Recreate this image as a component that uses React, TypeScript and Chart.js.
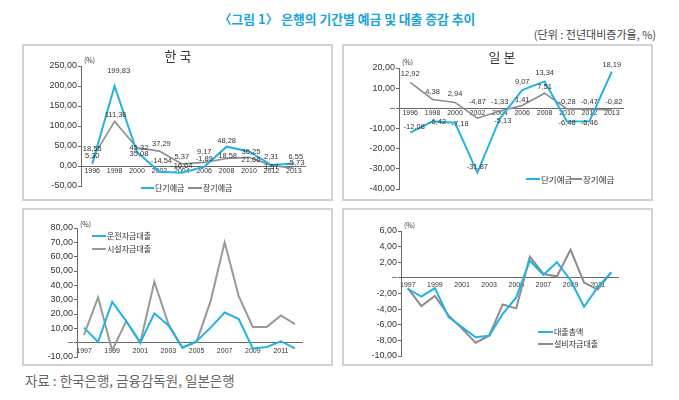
import React, { useEffect, useRef } from 'react';
import { Chart, registerables } from 'chart.js';
Chart.register(...registerables);

// ---------------- data ----------------
const depositYears = ['1996', '1998', '2000', '2002', '2004', '2006', '2008', '2010', '2012', '2013'];
const krShortDeposit = [5.3, 199.83, 35.08, -14.54, -16.64, -1.89, 48.28, 36.25, 2.31, 6.55];
const krLongDeposit = [18.55, 111.36, 45.32, 37.29, 5.37, 9.17, 18.58, 21.66, 1.57, -5.73];
const jpShortDeposit = [-12.08, -6.42, -7.18, -31.87, -5.13, 9.07, 13.34, -6.48, -6.46, 18.19];
const jpLongDeposit = [12.92, 4.38, 2.94, -4.87, -1.33, 1.41, 7.51, -0.28, -0.47, -0.82];

const loanYears = ['1997', '1998', '1999', '2000', '2001', '2002', '2003', '2004', '2005', '2006', '2007', '2008', '2009', '2010', '2011', '2012'];
const krWorkingLoan = [10.5, 0.5, 28.5, 15, 0, 20.5, 12, -3.5, 1, 10.5, 21, 16.5, -4, -3, 1, -4];
const krFacilityLoan = [5.5, 31.5, -5.5, 15, 0, 42.5, 13, -3.5, 0.5, 29, 70, 32.5, 11, 11, 19, 13];
const jpTotalLoan = [-1.4, -2.4, -1.3, -5.0, -6.3, -7.6, -7.4, -4.6, -2.5, 2.2, 0.4, 2.0, -0.3, -3.7, -1.2, 0.7];
const jpFacilityLoan = [-1.3, -3.6, -2.3, -4.8, -6.5, -8.3, -7.4, -3.4, -3.9, 2.7, 0.5, 0.2, 3.6, -0.6, -1.5, 0.7];

// label placement offsets [dx, dy] (style only)
const krShortOffsets = [[0, -8], [4, -15], [2, 2], [2, -11], [0, -7], [0, -8], [0, -6], [2, 0], [0, -8], [2, -6]];
const krLongOffsets = [[0, -10], [1, -7], [2, 0], [2, -7], [0, -7], [0, -10], [1, -3], [2, 3], [0, 2], [2, -5]];
const jpShortOffsets = [[4, -6], [5, 1], [5, 1], [0, -6], [3, 2], [0, -8], [0, -8], [0, 2], [0, 2], [0, -7]];
const jpLongOffsets = [[0, -8], [0, -8], [0, -8], [0, -16], [0, -9], [0, -6], [0, -6], [0, -7], [0, -7], [2, -8]];

// ---------------- styles ----------------
const CYAN = '#23b2e5';
const GRAY = '#8c8c8c';
const AXIS = '#6a6a6a';
const NARROW = "'Liberation Sans', Arial, sans-serif";
const KFONT = "'Noto Sans CJK KR', 'Noto Sans', sans-serif";

const fmt = (v: number) => v.toFixed(2).replace('.', ',');

const dataLabelPlugin = {
  id: 'dlabels',
  afterDatasetsDraw(chart: any, _args: any, opts: any) {
    if (!opts || !opts.offsets) return;
    const ctx = chart.ctx;
    ctx.save();
    ctx.font = `7.5px ${NARROW}`;
    ctx.fillStyle = '#333';
    ctx.textAlign = 'center';
    ctx.textBaseline = 'middle';
    chart.data.datasets.forEach((ds: any, di: number) => {
      const meta = chart.getDatasetMeta(di);
      const offs = opts.offsets[di];
      if (!offs) return;
      meta.data.forEach((pt: any, i: number) => {
        const [dx, dy] = offs[i];
        ctx.fillText(fmt(ds.data[i]), pt.x + dx, pt.y + dy);
      });
    });
    ctx.restore();
  },
};

type Series = { data: number[]; color: string; width: number };
type PanelProps = {
  box: number[]; // left, top, right, bottom
  area: number[]; // L, T, R, B
  labels: string[];
  series: Series[];
  yMin: number;
  yMax: number;
  yStep: number;
  dashZero: boolean;
  xEvery: number;
  xPad: number;
  xFont: number;
  offsets?: number[][][];
};

function Panel(p: PanelProps) {
  const ref = useRef<HTMLCanvasElement>(null);
  const [bl, bt, br, bb] = p.box;
  const [L, T, R, B] = p.area;
  const w = br - bl;
  const h = bb - bt;
  useEffect(() => {
    const chart = new Chart(ref.current as HTMLCanvasElement, {
      type: 'line',
      data: {
        labels: p.labels,
        datasets: p.series.map((s) => ({
          data: s.data,
          borderColor: s.color,
          borderWidth: s.width,
          pointRadius: 0,
          tension: 0,
          fill: false,
        })),
      },
      options: {
        animation: false,
        responsive: false,
        devicePixelRatio: 1,
        layout: { padding: { left: 0, top: T - bt, right: br - R, bottom: bb - B } },
        plugins: {
          legend: { display: false },
          tooltip: { enabled: false },
          dlabels: p.offsets ? { offsets: p.offsets } : false,
        } as any,
        scales: {
          x: {
            type: 'category',
            position: { y: 0 } as any,
            offset: true,
            grid: { display: false, drawTicks: false },
            border: { display: true, color: AXIS, width: 1 },
            ticks: {
              autoSkip: false,
              maxRotation: 0,
              padding: p.xPad,
              color: '#333',
              font: { family: NARROW, size: p.xFont },
              callback: (_v: any, i: number) => (i % p.xEvery === 0 ? p.labels[i] : ''),
            },
          },
          y: {
            type: 'linear',
            position: 'left',
            min: p.yMin,
            max: p.yMax,
            afterFit: (s: any) => {
              s.width = L - bl;
            },
            grid: { display: true, drawOnChartArea: false, drawTicks: true, tickLength: 3, color: AXIS },
            border: { display: true, color: AXIS, width: 1 },
            ticks: {
              stepSize: p.yStep,
              autoSkip: false,
              padding: 1,
              color: '#333',
              font: { family: NARROW, size: 9 },
              callback: (v: any) => (p.dashZero && Number(v) === 0 ? '–' : fmt(Number(v))),
            },
          },
        },
      },
      plugins: [dataLabelPlugin],
    } as any);
    return () => chart.destroy();
  }, []);
  return (
    <canvas
      ref={ref}
      width={w}
      height={h}
      style={{ position: 'absolute', left: bl, top: bt, width: w, height: h }}
    />
  );
}

function Box({ b }: { b: number[] }) {
  return (
    <div
      style={{
        position: 'absolute',
        left: b[0],
        top: b[1],
        width: b[2] - b[0],
        height: b[3] - b[1],
        boxSizing: 'border-box',
        border: '2px solid #d2d2d2',
      }}
    />
  );
}

function LegendItem({ x, y, color, text, size, lineW }: any) {
  return (
    <div
      style={{
        position: 'absolute',
        left: x,
        top: y - 6,
        height: 12,
        display: 'flex',
        alignItems: 'center',
        whiteSpace: 'nowrap',
      }}
    >
      <div style={{ width: lineW, height: 2, background: color }} />
      <span style={{ fontFamily: KFONT, fontSize: size, color: '#333', marginLeft: 1, lineHeight: 1 }}>{text}</span>
    </div>
  );
}

function Txt({ x, y, size, children, color = '#333', anchor = 'left', weight = 400 }: any) {
  const style: any = {
    position: 'absolute',
    top: y - size * 0.65,
    fontFamily: KFONT,
    fontSize: size,
    color,
    lineHeight: 1.3,
    whiteSpace: 'nowrap',
    fontWeight: weight,
  };
  if (anchor === 'left') style.left = x;
  else if (anchor === 'right') style.right = 679 - x;
  else {
    style.left = x - 200;
    style.width = 400;
    style.textAlign = 'center';
  }
  return <div style={style}>{children}</div>;
}

const TL = [22, 44, 333, 201];
const TR = [342, 44, 653, 201];
const BL = [22, 208, 333, 366];
const BR = [342, 208, 653, 366];

export default function App() {
  return (
    <div style={{ position: 'absolute', left: 0, top: 0, width: 679, height: 400, background: '#fff', overflow: 'hidden' }}>
      <Txt x={347} y={19} size={12.8} anchor="center" color="#1ba3db" weight={700}>
        〈그림 1〉 은행의 기간별 예금 및 대출 증감 추이
      </Txt>
      <Txt x={656} y={34} size={11} anchor="right" color="#444">
        (단위 : 전년대비증가율, %)
      </Txt>

      <Box b={TL} />
      <Box b={TR} />
      <Box b={BL} />
      <Box b={BR} />

      <Panel
        box={TL}
        area={[81, 66, 305, 186]}
        labels={depositYears}
        series={[
          { data: krShortDeposit, color: CYAN, width: 2 },
          { data: krLongDeposit, color: GRAY, width: 1.6 },
        ]}
        yMin={-50}
        yMax={250}
        yStep={50}
        dashZero={false}
        xEvery={1}
        xPad={1}
        xFont={7}
        offsets={[krShortOffsets, krLongOffsets]}
      />
      <Panel
        box={TR}
        area={[399, 68, 623, 189]}
        labels={depositYears}
        series={[
          { data: jpShortDeposit, color: CYAN, width: 2 },
          { data: jpLongDeposit, color: GRAY, width: 1.6 },
        ]}
        yMin={-40}
        yMax={20}
        yStep={10}
        dashZero={true}
        xEvery={1}
        xPad={1}
        xFont={7}
        offsets={[jpShortOffsets, jpLongOffsets]}
      />
      <Panel
        box={BL}
        area={[77, 228, 302, 357]}
        labels={loanYears}
        series={[
          { data: krWorkingLoan, color: CYAN, width: 2 },
          { data: krFacilityLoan, color: '#999', width: 2 },
        ]}
        yMin={-10}
        yMax={80}
        yStep={10}
        dashZero={true}
        xEvery={2}
        xPad={4}
        xFont={7}
      />
      <Panel
        box={BR}
        area={[401, 231, 618, 356]}
        labels={loanYears}
        series={[
          { data: jpTotalLoan, color: CYAN, width: 2 },
          { data: jpFacilityLoan, color: GRAY, width: 2 },
        ]}
        yMin={-10}
        yMax={6}
        yStep={2}
        dashZero={true}
        xEvery={2}
        xPad={3}
        xFont={7}
      />

      <Txt x={178} y={56} size={13} anchor="center">한 국</Txt>
      <Txt x={502} y={57} size={13} anchor="center">일 본</Txt>

      <Txt x={84} y={61} size={7}>(%)</Txt>
      <Txt x={402} y={63} size={7}>(%)</Txt>
      <Txt x={80} y={225} size={7}>(%)</Txt>
      <Txt x={404} y={226} size={7}>(%)</Txt>

      <LegendItem x={141} y={188} color={CYAN} text="단기예금" size={8} lineW={13} />
      <LegendItem x={188} y={188} color={GRAY} text="장기예금" size={8} lineW={14} />
      <LegendItem x={526} y={179} color={CYAN} text="단기예금" size={8.5} lineW={14} />
      <LegendItem x={569} y={179} color={GRAY} text="장기예금" size={8.5} lineW={13} />
      <LegendItem x={92} y={236} color={CYAN} text="운전자금대출" size={8} lineW={14} />
      <LegendItem x={92} y={249} color="#999" text="시설자금대출" size={8} lineW={14} />
      <LegendItem x={538} y={332} color={CYAN} text="대출총액" size={8} lineW={15} />
      <LegendItem x={538} y={344} color={GRAY} text="설비자금대출" size={8} lineW={15} />

      <Txt x={25} y={381} size={13.5} color="#666">자료 : 한국은행, 금융감독원, 일본은행</Txt>
    </div>
  );
}
